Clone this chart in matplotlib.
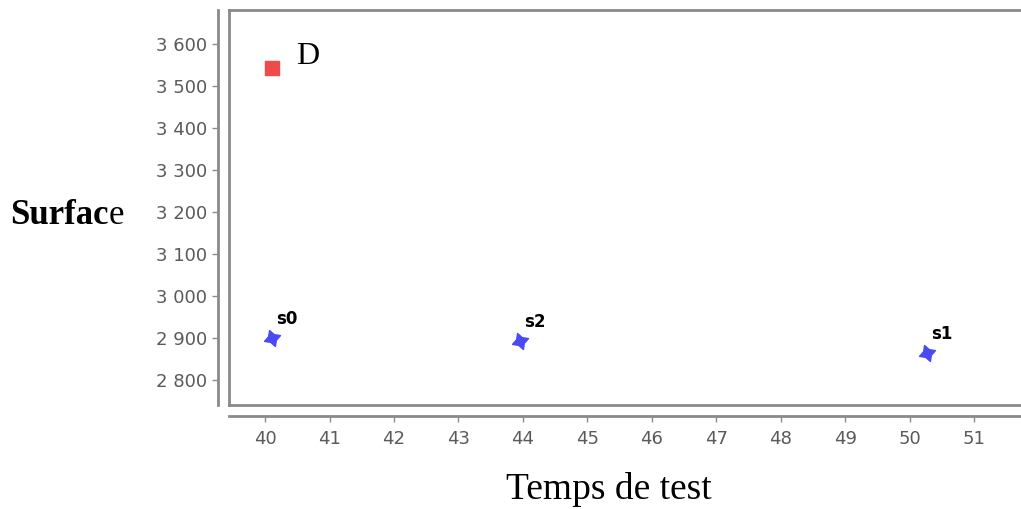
import numpy as np
import matplotlib.pyplot as plt
from matplotlib.ticker import FuncFormatter

# values
d_x = [40.11]
d_y = [3543]
s_names = ["s0", "s2", "s1"]
s_x = [40.1, 43.95, 50.26]
s_y = [2900, 2893, 2864]
x_ticks = list(range(40, 52))
y_ticks = list(range(2800, 3601, 100))

gray = "#8a8a8a"
tick_col = "#5a5a5a"

fig = plt.figure(figsize=(10.21, 5.09), dpi=100)
ax = fig.add_axes([229 / 1021, 104 / 509, 800 / 1021, 395 / 509])

ax.scatter(d_x, d_y, marker="s", s=110, color="#f04a4a", zorder=3)
ax.annotate("D", (d_x[0], d_y[0]), xytext=(17, 8), textcoords="offset points",
            family="Liberation Serif", fontsize=23, va="center", ha="left")

ax.scatter(s_x, s_y, marker=(4, 1, 20), s=150, color="#4a4af5", zorder=3)
for name, x, y in zip(s_names, s_x, s_y):
    ax.annotate(name, (x, y), xytext=(3, 7), textcoords="offset points",
                fontsize=12, fontweight="bold", va="bottom", ha="left")

ax.set_xlim(39.44, 51.85)
ax.set_ylim(2740, 3681)
ax.set_xticks(x_ticks)
ax.set_yticks(y_ticks)
ax.yaxis.set_major_formatter(FuncFormatter(lambda v, p: f"{int(v):,}".replace(",", " ")))

for side in ["top", "right"]:
    ax.spines[side].set_color(gray)
    ax.spines[side].set_linewidth(2)
for side in ["left", "bottom"]:
    ax.spines[side].set_position(("outward", 8))
    ax.spines[side].set_color(gray)
    ax.spines[side].set_linewidth(2)
# inner frame edges
ax.plot([0, 0], [0, 1], transform=ax.transAxes, color=gray, lw=2, clip_on=False)
ax.plot([0, 1], [0, 0], transform=ax.transAxes, color=gray, lw=2, clip_on=False)

ax.tick_params(axis="both", colors=gray, length=4, width=1,
               labelcolor=tick_col, labelsize=13)
ax.tick_params(axis="y", pad=4)
ax.tick_params(axis="x", pad=6)

ax.set_xlabel("Temps de test", family="Liberation Serif", fontsize=27, labelpad=12)
ax.xaxis.set_label_coords(0.475, -0.17)

t = fig.text(10 / 1021, 1 - 215 / 509, "Surfac", family="Liberation Serif",
             fontweight="bold", fontsize=25, va="center", ha="left")
ax.annotate("e", xy=(1, 0), xycoords=t, va="bottom", ha="left",
            family="Liberation Serif", fontsize=25, annotation_clip=False)

fig.savefig("out.png", dpi=100)
